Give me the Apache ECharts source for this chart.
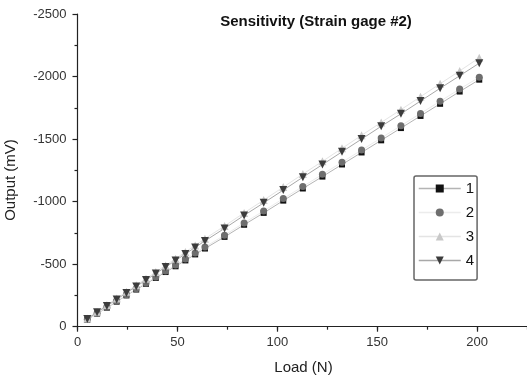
<!DOCTYPE html>
<html>
<head>
<meta charset="utf-8">
<script src="https://cdn.jsdelivr.net/npm/echarts@6/dist/echarts.min.js"></script>
<style>html,body{margin:0;padding:0;background:#fff;}#c{width:527px;height:377px;}</style>
</head>
<body>
<div id="c"></div>
<script>
var loads = [4.9, 9.8, 14.7, 19.6, 24.5, 29.4, 34.3, 39.2, 44.1, 49.1, 54.0, 58.9, 63.8, 73.6, 83.4, 93.2, 103.0, 112.8, 122.6, 132.4, 142.2, 152.0, 161.9, 171.7, 181.5, 191.3, 201.1];
var out1 = [-55, -105, -152, -200, -250, -297, -343, -390, -437, -483, -530, -578, -625, -718, -815, -910, -1008, -1105, -1200, -1297, -1393, -1490, -1588, -1685, -1782, -1880, -1975];
var out2 = [-57, -108, -156, -205, -255, -303, -350, -398, -446, -493, -541, -589, -637, -732, -830, -926, -1024, -1121, -1218, -1315, -1412, -1509, -1607, -1705, -1802, -1900, -1995];
var out3 = [-65, -120, -173, -226, -279, -332, -384, -437, -490, -544, -597, -650, -703, -805, -910, -1012, -1116, -1220, -1322, -1426, -1530, -1633, -1735, -1839, -1942, -2045, -2150];
var out4 = [-62, -115, -166, -218, -270, -322, -373, -425, -477, -530, -582, -634, -686, -786, -890, -990, -1092, -1195, -1296, -1398, -1500, -1602, -1702, -1804, -1906, -2006, -2107];
var seriesNames = ['1', '2', '3', '4'];
var titleText = 'Sensitivity (Strain gage #2)';
var xName = 'Load (N)';
var yName = 'Output (mV)';

function pairs(ys) { return loads.map(function (x, i) { return [x, ys[i]]; }); }
var FONT = '"Liberation Sans", Arial, sans-serif';
var lineColors = ['#b4b4b4', '#ececec', '#e4e4e4', '#a8a8a8'];
var chart = echarts.init(document.getElementById('c'));
chart.setOption({
  animation: false,
  backgroundColor: '#fff',
  grid: { left: 77.5, top: 14, bottom: 50.3, right: -2.75, containLabel: false },
  xAxis: [{
    type: 'value', min: 0, max: 225, interval: 50, position: 'bottom',
    axisLine: { show: true, onZero: false, lineStyle: { color: '#222', width: 1.2 } },
    axisTick: { show: true, length: 5, inside: false, lineStyle: { color: '#222', width: 1.2 } },
    axisLabel: { color: '#333', fontSize: 13, fontFamily: FONT, margin: 9, showMaxLabel: false,
      formatter: function (v) { return String(v); } },
    splitLine: { show: false }
  }, {
    type: 'value', min: 0, max: 225, interval: 25, position: 'bottom',
    axisLine: { show: false },
    axisTick: { show: true, length: 3, lineStyle: { color: '#222', width: 1.2 } },
    axisLabel: { show: false },
    splitLine: { show: false }
  }],
  yAxis: {
    type: 'value', min: -2500, max: 0, interval: 500, inverse: true,
    axisLine: { show: true, onZero: false, lineStyle: { color: '#222', width: 1.2 } },
    axisTick: { show: true, length: 5, lineStyle: { color: '#222', width: 1.2 } },
    minorTick: { show: true, splitNumber: 2, length: 3, lineStyle: { color: '#222', width: 1.2 } },
    axisLabel: { color: '#333', fontSize: 13, fontFamily: FONT, margin: 11,
      formatter: function (v) { return String(v); } },
    splitLine: { show: false }
  },
  legend: {
    orient: 'vertical', left: 414, top: 176,
    padding: [5, 3, 12, 4],
    itemWidth: 42, itemHeight: 10, itemGap: 9,
    borderColor: '#666', borderWidth: 1.5, borderRadius: 2,
    textStyle: { color: '#111', fontSize: 15, fontFamily: FONT },
    data: seriesNames.map(function (n, i) { return { name: n, lineStyle: { color: lineColors[i], width: 1.5 } }; })
  },
  graphic: [
    { type: 'text', x: 316, y: 22, style: { text: titleText, fill: '#111', font: 'bold 15px ' + FONT, textAlign: 'center', textVerticalAlign: 'middle' } },
    { type: 'text', x: 303.5, y: 368, style: { text: xName, fill: '#222', font: '15px ' + FONT, textAlign: 'center', textVerticalAlign: 'middle' } },
    { type: 'text', x: 11, y: 180, rotation: Math.PI / 2, style: { text: yName, fill: '#222', font: '15px ' + FONT, textAlign: 'center', textVerticalAlign: 'middle' } }
  ],
  series: [
    { name: seriesNames[0], type: 'line', xAxisIndex: 0, data: pairs(out1), symbol: 'rect', symbolSize: 6,
      itemStyle: { color: '#111' }, lineStyle: { color: lineColors[0], width: 1 } },
    { name: seriesNames[1], type: 'line', xAxisIndex: 0, data: pairs(out2), symbol: 'circle', symbolSize: 7,
      itemStyle: { color: '#6e6e6e' }, lineStyle: { color: lineColors[1], width: 1 } },
    { name: seriesNames[2], type: 'line', xAxisIndex: 0, data: pairs(out3), symbol: 'triangle', symbolSize: 8,
      itemStyle: { color: '#c8c8c8' }, lineStyle: { color: lineColors[2], width: 1 } },
    { name: seriesNames[3], type: 'line', xAxisIndex: 0, data: pairs(out4), symbol: 'triangle', symbolRotate: 180, symbolSize: 8,
      itemStyle: { color: '#3c3c3c' }, lineStyle: { color: lineColors[3], width: 1 } }
  ]
});
</script>
</body>
</html>
